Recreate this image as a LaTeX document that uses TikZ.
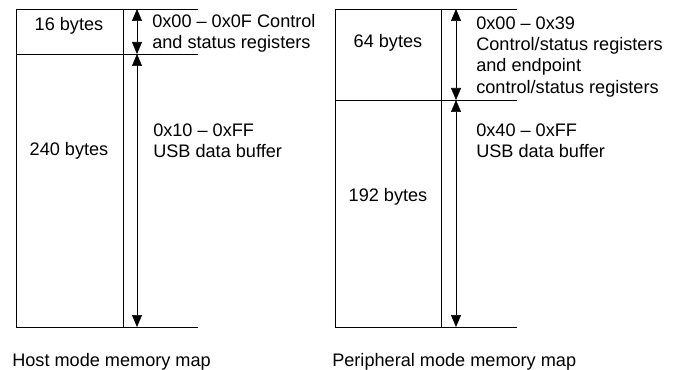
\documentclass[tikz,border=0pt]{standalone}
\usepackage{fontspec}
\setmainfont{Liberation Sans}
\usetikzlibrary{arrows.meta}
\tikzset{
  memtext/.style={anchor=west, inner sep=0pt, align=left},
  sizetext/.style={inner sep=0pt},
  captext/.style={anchor=base west, inner sep=0pt},
  span/.style={{Triangle[length=9pt,width=7.5pt]}-{Triangle[length=9pt,width=7.5pt]}},
}
\begin{document}
\begin{tikzpicture}[x=0.75pt,y=-0.75pt,font=\fontsize{13.6}{15.8}\selectfont]
\useasboundingbox (0,0) rectangle (685,370);

% Host mode memory map
% Box lines
\draw (16,327) -- (16,9) -- (198,9);
\draw (123,9) -- (123,327);
\draw (16,54) -- (198,54);
\draw (16,327) -- (198,327);
% Arrow ends
\coordinate (htop) at (137,9);
\coordinate (hmid) at (137,54);
\coordinate (hbot) at (137,327);
\draw[span] (htop) -- (hmid);
\draw[span] (hmid) -- (hbot);
% Labels
\node[sizetext] (hsmall) at (69,26) {16 bytes};
\node[sizetext] (hlarge) at (69,151) {240 bytes};
\node[memtext] (hregs) at (152,33) {0x00 -- 0x0F Control\\and status registers};
\node[memtext] (hbuf) at (153,141) {0x10 -- 0xFF\\USB data buffer};
\node[captext] (hname) at (12,366) {Host mode memory map};

% Peripheral mode memory map
% Box lines
\draw (335,327) -- (335,9) -- (517,9);
\draw (441,9) -- (441,327);
\draw (335,100) -- (517,100);
\draw (335,327) -- (517,327);
% Arrow ends
\coordinate (ptop) at (456,9);
\coordinate (pmid) at (456,100);
\coordinate (pbot) at (456,327);
\draw[span] (ptop) -- (pmid);
\draw[span] (pmid) -- (pbot);
% Labels
\node[sizetext] (psmall) at (388,43) {64 bytes};
\node[sizetext] (plarge) at (388,197) {192 bytes};
\node[memtext] (pregs) at (476,57) {0x00 -- 0x39\\Control/status registers\\and endpoint\\control/status registers};
\node[memtext] (pbuf) at (476,141) {0x40 -- 0xFF\\USB data buffer};
\node[captext] (pname) at (332,366) {Peripheral mode memory map};
\end{tikzpicture}
\end{document}
